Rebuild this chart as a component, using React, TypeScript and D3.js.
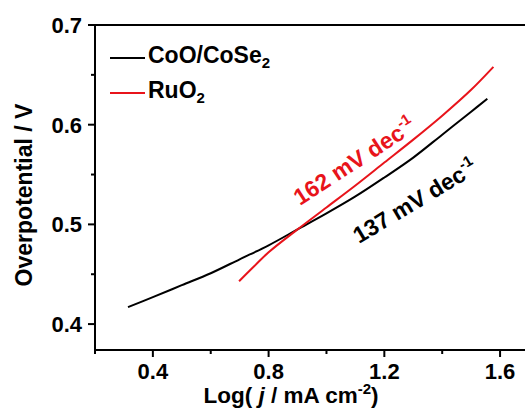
import * as d3 from 'd3';

// CoO/CoSe2 Tafel curve
const cooX = [0.314, 0.4, 0.5, 0.6, 0.7, 0.8, 0.9, 1.0, 1.1, 1.2, 1.3, 1.4, 1.5, 1.556];
const cooY = [0.417, 0.427, 0.439, 0.451, 0.465, 0.479, 0.495, 0.511, 0.528, 0.547, 0.567, 0.59, 0.613, 0.626];

// RuO2 Tafel curve
const ruX = [0.698, 0.75, 0.8, 0.9, 1.0, 1.1, 1.2, 1.3, 1.4, 1.5, 1.577];
const ruY = [0.443, 0.458, 0.472, 0.495, 0.517, 0.539, 0.562, 0.585, 0.609, 0.635, 0.658];

const xTicks = [0.4, 0.8, 1.2, 1.6];
const xMinor = [0.2, 0.6, 1.0, 1.4];
const yTicks = [0.4, 0.5, 0.6, 0.7];
const yMinor = [0.45, 0.55, 0.65];

const W = 525;
const H = 414;
const FONT = '"Liberation Sans", Arial, sans-serif';

export default function App() {
  const x = d3.scaleLinear().domain([0.2, 1.7]).range([95, 529]);
  const y = d3.scaleLinear().domain([0.374, 0.7]).range([350, 25]);

  const line = d3
    .line<[number, number]>()
    .x(d => x(d[0]))
    .y(d => y(d[1]))
    .curve(d3.curveCatmullRom.alpha(0.5));

  const coo = cooX.map((v, i) => [v, cooY[i]] as [number, number]);
  const ru = ruX.map((v, i) => [v, ruY[i]] as [number, number]);

  const x0 = x(0.2);
  const yb = y(0.374);
  const yt = y(0.7);

  return (
    <svg
      width={W}
      height={H}
      style={{ position: 'absolute', left: 0, top: 0, background: '#fff' }}
      fontFamily={FONT}
      fontWeight="bold"
    >
      {/* frame */}
      <line x1={x0} x2={W} y1={yt} y2={yt} stroke="#000" strokeWidth={2} />
      <line x1={x0} x2={x0} y1={yt - 1} y2={yb + 1} stroke="#000" strokeWidth={2} />
      <line x1={x0 - 1} x2={W} y1={yb} y2={yb} stroke="#000" strokeWidth={2} />

      {/* y ticks */}
      {yTicks.map(t => (
        <g key={'y' + t}>
          <line x1={x0 - 7} x2={x0} y1={y(t)} y2={y(t)} stroke="#000" strokeWidth={2} />
          <text x={x0 - 13} y={y(t)} dy="0.36em" textAnchor="end" fontSize={22}>
            {t.toFixed(1)}
          </text>
        </g>
      ))}
      {yMinor.map(t => (
        <line key={'ym' + t} x1={x0 - 4} x2={x0} y1={y(t)} y2={y(t)} stroke="#000" strokeWidth={2} />
      ))}

      {/* x ticks */}
      {xTicks.map(t => (
        <g key={'x' + t}>
          <line x1={x(t)} x2={x(t)} y1={yb} y2={yb + 7} stroke="#000" strokeWidth={2} />
          <text x={x(t)} y={yb + 29} textAnchor="middle" fontSize={22}>
            {t.toFixed(1)}
          </text>
        </g>
      ))}
      {xMinor.map(t => (
        <line key={'xm' + t} x1={x(t)} x2={x(t)} y1={yb} y2={yb + 4} stroke="#000" strokeWidth={2} />
      ))}

      {/* axis titles */}
      <text x={291} y={403} textAnchor="middle" fontSize={22.5}>
        Log( <tspan fontStyle="italic">j</tspan> / mA cm
        <tspan fontSize={15} dy={-9}>-2</tspan>
        <tspan dy={9}>)</tspan>
      </text>
      <text transform="translate(32,195) rotate(-90)" textAnchor="middle" fontSize={23}>
        Overpotential / V
      </text>

      {/* curves */}
      <path d={line(coo) ?? ''} fill="none" stroke="#000" strokeWidth={2} />
      <path d={line(ru) ?? ''} fill="none" stroke="#e8141b" strokeWidth={2} />

      {/* slope labels */}
      <text transform="translate(300,206) rotate(-33)" fontSize={23} fill="#e8141b">
        162 mV dec<tspan fontSize={15} dy={-10}>-1</tspan>
      </text>
      <text transform="translate(359,244) rotate(-31)" fontSize={23} fill="#000">
        137 mV dec<tspan fontSize={15} dy={-10}>-1</tspan>
      </text>

      {/* legend */}
      <line x1={110} x2={145} y1={58} y2={58} stroke="#000" strokeWidth={2} />
      <text x={148} y={63} fontSize={23}>
        CoO/CoSe<tspan fontSize={15} dy={5}>2</tspan>
      </text>
      <line x1={110} x2={145} y1={93} y2={93} stroke="#e8141b" strokeWidth={2} />
      <text x={148} y={98} fontSize={23}>
        RuO<tspan fontSize={15} dy={5}>2</tspan>
      </text>
    </svg>
  );
}
